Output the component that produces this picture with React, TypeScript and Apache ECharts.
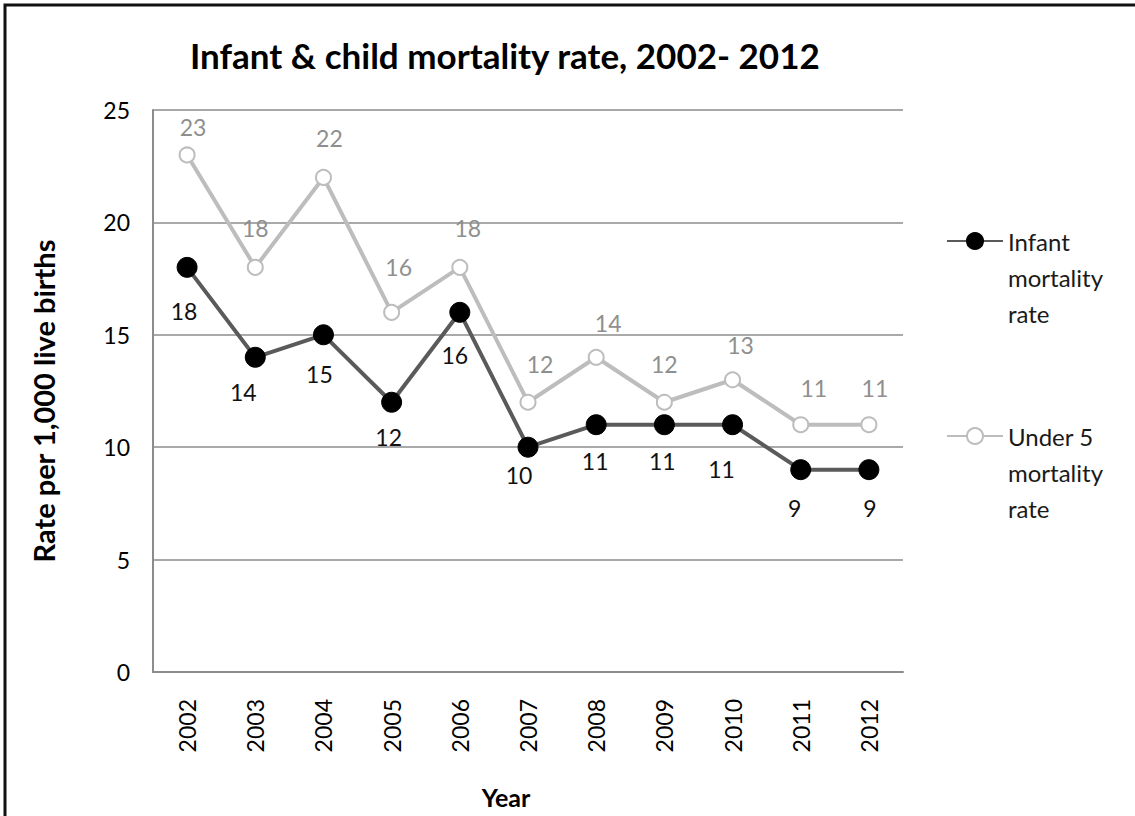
import React, { useEffect, useRef } from "react";
import * as echarts from "echarts";

const years = ["2002", "2003", "2004", "2005", "2006", "2007", "2008", "2009", "2010", "2011", "2012"];
const infantRate = [18, 14, 15, 12, 16, 10, 11, 11, 11, 9, 9];
const under5Rate = [23, 18, 22, 16, 18, 12, 14, 12, 13, 11, 11];
const yTicks = [0, 5, 10, 15, 20, 25];

// label offsets (pixels) relative to each point, as placed in the original
const infantLabelOffsets = [[-3, 44], [-12, 35], [-4, 39], [-3, 35], [-5, 43], [-9, 28], [-1, 36], [-2, 36], [-11, 44], [-6, 38], [1, 38]];
const under5LabelOffsets = [[6, -28], [0, -39], [6, -39], [7, -45], [8, -39], [12, -38], [12, -34], [0, -38], [8, -35], [13, -37], [6, -37]];

const FONT = "Lato";

export default function App() {
  const ref = useRef<HTMLDivElement>(null);
  useEffect(() => {
    document.body.style.margin = "0";
    const chart = echarts.init(ref.current!, undefined, { renderer: "svg" });
    const mk = (vals: number[], offs: number[][]) =>
      vals.map((v, i) => ({ value: v, label: { offset: offs[i] } }));
    const legendText = { fontFamily: FONT, fontSize: 24, color: "#1a1a1a", lineHeight: 36 };
    chart.setOption({
      animation: false,
      backgroundColor: "#ffffff",
      textStyle: { fontFamily: FONT },
      title: {
        text: "Infant & child mortality rate, 2002- 2012",
        left: 190,
        top: 37,
        padding: 0,
        textStyle: { fontFamily: FONT, fontSize: 35, fontWeight: "bold", color: "#000" },
      },
      legend: [
        {
          data: ["Infant mortality rate"],
          left: 946,
          top: 151,
          padding: 0,
          itemWidth: 56,
          itemHeight: 20,
          formatter: () => "\n\nInfant\nmortality\nrate",
          textStyle: legendText,
        },
        {
          data: ["Under 5 mortality rate"],
          left: 946,
          top: 346,
          padding: 0,
          itemWidth: 56,
          itemHeight: 20,
          formatter: () => "\n\nUnder 5\nmortality\nrate",
          textStyle: legendText,
        },
      ],
      grid: { left: 153, right: 232, top: 110, bottom: 144, containLabel: false, outerBoundsMode: "none" },
      xAxis: {
        type: "category",
        data: years,
        boundaryGap: true,
        name: "Year",
        nameLocation: "middle",
        nameGap: 112,
        nameTextStyle: { fontFamily: FONT, fontSize: 25, fontWeight: "bold", color: "#000", padding: [0, 44, 0, 0] },
        axisLine: { lineStyle: { color: "#8c8c8c", width: 2 } },
        axisTick: { show: false },
        axisLabel: { rotate: 90, margin: 27, fontFamily: FONT, fontSize: 23, color: "#000" },
      },
      yAxis: {
        type: "value",
        min: yTicks[0],
        max: yTicks[yTicks.length - 1],
        interval: 5,
        name: "Rate per 1,000 live births",
        nameLocation: "middle",
        nameGap: 95,
        nameTextStyle: { fontFamily: FONT, fontSize: 29, fontWeight: "bold", color: "#000", padding: [0, 20, 0, 0] },
        axisLine: { show: true, lineStyle: { color: "#8c8c8c", width: 2 } },
        axisTick: { show: false },
        axisLabel: { margin: 23, fontFamily: FONT, fontSize: 23, color: "#000" },
        splitLine: { lineStyle: { color: "#8c8c8c", width: 1.5 } },
      },
      series: [
        {
          name: "Under 5 mortality rate",
          type: "line",
          data: mk(under5Rate, under5LabelOffsets),
          symbol: "circle",
          symbolSize: 15,
          lineStyle: { color: "#bdbdbd", width: 4 },
          itemStyle: { color: "#ffffff", borderColor: "#bdbdbd", borderWidth: 2 },
          label: { show: true, position: "inside", fontFamily: FONT, fontSize: 23, color: "#8f8f8f" },
          z: 2,
        },
        {
          name: "Infant mortality rate",
          type: "line",
          data: mk(infantRate, infantLabelOffsets),
          symbol: "circle",
          symbolSize: 20,
          lineStyle: { color: "#5a5a5a", width: 4 },
          itemStyle: { color: "#000000", borderColor: "#000000", borderWidth: 1 },
          label: { show: true, position: "inside", fontFamily: FONT, fontSize: 23, color: "#111111" },
          z: 3,
        },
      ],
      graphic: [
        {
          type: "rect",
          shape: { x: 5, y: 5, width: 1140, height: 830 },
          style: { fill: "none", stroke: "#111111", lineWidth: 3 },
          silent: true,
        },
      ],
    });
    return () => chart.dispose();
  }, []);
  return <div ref={ref} style={{ width: 1135, height: 816 }} />;
}
